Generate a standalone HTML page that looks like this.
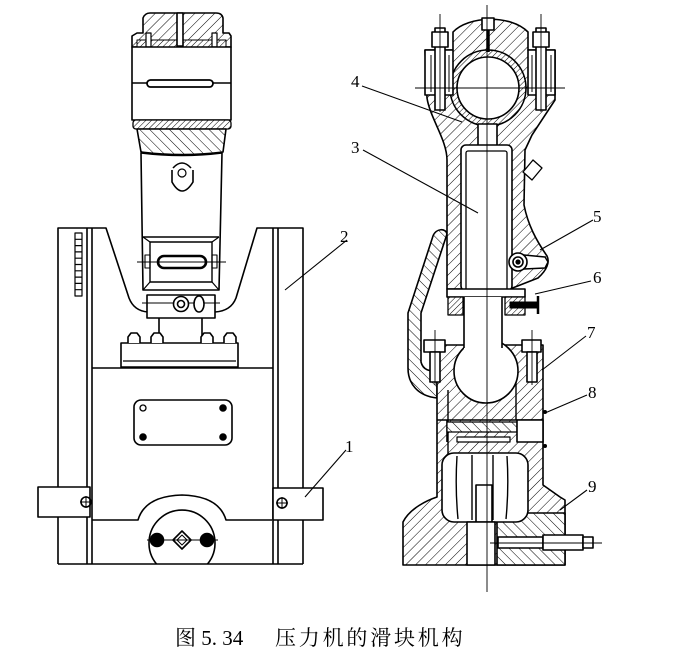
<!DOCTYPE html>
<html><head><meta charset="utf-8"><style>
html,body{margin:0;padding:0;background:#fff;}
svg{display:block;}
</style></head><body>
<svg width="674" height="657" viewBox="0 0 674 657" xmlns="http://www.w3.org/2000/svg">
<defs>
<pattern id="h1" width="7" height="7" patternUnits="userSpaceOnUse" patternTransform="rotate(45)"><rect width="7" height="7" fill="#fff"/><line x1="0" y1="0" x2="0" y2="7" stroke="#000" stroke-width="1"/></pattern>
<pattern id="h2" width="7" height="7" patternUnits="userSpaceOnUse" patternTransform="rotate(-45)"><rect width="7" height="7" fill="#fff"/><line x1="0" y1="0" x2="0" y2="7" stroke="#000" stroke-width="1"/></pattern>
<pattern id="h3" width="4" height="4" patternUnits="userSpaceOnUse" patternTransform="rotate(45)"><rect width="4" height="4" fill="#fff"/><line x1="0" y1="0" x2="0" y2="4" stroke="#000" stroke-width="1"/></pattern>
</defs>
<rect width="674" height="657" fill="#fff"/>

<!-- ============ LEFT VIEW ============ -->
<g fill="none" stroke="#000" stroke-width="1.6" stroke-linejoin="round">
<path d="M58,564 V228 H106 L129,298 Q134,311 148,312"/>
<path d="M303,564 V228 H257 L236,298 Q231,311 215,312"/>
<line x1="87" y1="228" x2="87" y2="564"/>
<line x1="92" y1="228" x2="92" y2="564"/>
<line x1="273" y1="228" x2="273" y2="564"/>
<line x1="278" y1="228" x2="278" y2="564"/>
<line x1="58" y1="564" x2="303" y2="564"/>
<rect x="75" y="233" width="7" height="63" stroke-width="1.2"/>
<path d="M75,239.3H82M75,245.6H82M75,251.9H82M75,258.2H82M75,264.5H82M75,270.8H82M75,277.1H82M75,283.4H82M75,289.7H82" stroke-width="1.2"/>
<line x1="92" y1="368" x2="273" y2="368"/>
<rect x="134" y="400" width="98" height="45" rx="7"/>
<circle cx="143" cy="408" r="3" stroke-width="1.3"/>
<circle cx="223" cy="408" r="3" fill="#000"/>
<circle cx="143" cy="437" r="3" fill="#000"/>
<circle cx="223" cy="437" r="3" fill="#000"/>
<rect x="38" y="487" width="52" height="30" fill="#fff"/>
<rect x="273" y="488" width="50" height="32" fill="#fff"/>
<circle cx="86" cy="502" r="5"/><path d="M80,502H92M86,496V508" stroke-width="1"/>
<circle cx="282" cy="503" r="5"/><path d="M276,503H288M282,497V509" stroke-width="1"/>
<path d="M92,520 H138 Q145,496 182,495 Q219,496 226,520 H272"/>
<path d="M156.5,564 A33,33 0 1 1 207.5,564"/>
<line x1="147" y1="540" x2="218" y2="540" stroke-width="1"/>
<circle cx="157" cy="540" r="6.5" fill="#000"/>
<circle cx="207" cy="540" r="6.5" fill="#000"/>
<path d="M182,531 L191,540 L182,549 L173,540 Z"/>
<path d="M182,535 L187,540 L182,545 L177,540 Z" stroke-width="1"/>

<path fill="url(#h1)" d="M132,47 V36 L137,33 H143 V18 Q145,13 150,13 H216 Q222,13 223,18 V33 H229 L231,36 V47 Z"/>
<path fill="url(#h3)" d="M137,40 H226 V47 H137 Z" stroke-width="1"/>
<rect x="177" y="13" width="6" height="33" fill="#fff"/>
<rect x="146" y="33" width="5" height="14" fill="#fff" stroke-width="1.2"/>
<rect x="212" y="33" width="5" height="14" fill="#fff" stroke-width="1.2"/>
<rect x="132" y="47" width="99" height="73" fill="#fff"/>
<line x1="132" y1="83" x2="231" y2="83"/>
<rect x="147" y="80" width="66" height="7" rx="3.5" fill="#fff" stroke-width="1.8"/>
<rect x="133" y="120" width="98" height="9" rx="3" fill="url(#h3)" stroke-width="1.3"/>
<path fill="url(#h2)" d="M137,129 H226 L223,152 Q182,157 141,152 Z"/>
<path fill="#fff" d="M141,153 Q182,158 222,153 L219,290 H143 Z"/>
<path d="M173,168 Q182,158 191,168"/>
<path d="M172,170 V182 Q182,200 193,182 V170"/>
<circle cx="182" cy="173" r="4" stroke-width="1.2"/>
<line x1="143" y1="237" x2="219" y2="237"/>
<rect x="150" y="242" width="62" height="40" stroke-width="1.4"/>
<path d="M143,237 L150,242 M219,237 L212,242 M143,290 L150,282 M219,290 L212,282" stroke-width="1.2"/>
<rect x="158" y="256" width="48" height="12" rx="6" stroke-width="2.6"/>
<line x1="137" y1="262" x2="226" y2="262" stroke-width="0.9"/>
<rect x="145" y="255" width="5" height="13" stroke-width="1.1"/>
<rect x="212" y="255" width="5" height="13" stroke-width="1.1"/>
<rect x="147" y="295" width="68" height="23" fill="#fff"/>
<line x1="142" y1="303" x2="220" y2="303" stroke-width="0.9"/>
<circle cx="181" cy="304" r="7.5" fill="#fff"/>
<circle cx="181" cy="304" r="3.5"/>
<ellipse cx="199" cy="304" rx="5" ry="8" fill="#fff"/>
<line x1="159" y1="318" x2="159" y2="337"/>
<line x1="202" y1="318" x2="202" y2="337"/>
<rect x="121" y="343" width="117" height="24" fill="#fff"/>
<line x1="123" y1="361" x2="236" y2="361" stroke-width="1.2"/>
<path d="M128,343 V337 L131,333 H137 L140,337 V343 M151,343 V337 L154,333 H160 L163,337 V343 M201,343 V337 L204,333 H210 L213,337 V343 M224,343 V337 L227,333 H233 L236,337 V343" fill="#fff"/>
<line x1="347" y1="240" x2="285" y2="290" stroke-width="1.1"/>
<line x1="346" y1="450" x2="305" y2="497" stroke-width="1.1"/>
</g>

<!-- ============ RIGHT VIEW ============ -->
<g fill="none" stroke="#000" stroke-width="1.6" stroke-linejoin="round">
<path fill="url(#h2)" d="M433,236 C436,228 446,228 447,234 L421,313 V362 C423,370 430,372 437,370 V398 C418,396 408,384 408,368 V313 Z"/>
<path fill="url(#h1)" d="M427,98 L425,50 H453 V32 C468,16 510,14 528,32 V50 H555 V100 L532,135 L525,150 L524,205 C528,225 536,240 547,256 C550,262 547,270 538,278 L510,289 H447 V160 C447,140 430,118 427,98 Z"/>
<path fill="#fff" d="M523,172 L533,160 L542,168 L532,180 Z" stroke-width="1.3"/>
<circle cx="488" cy="88" r="38" fill="url(#h3)"/>
<circle cx="488" cy="88" r="31" fill="#fff"/>
<rect x="425" y="50" width="28" height="45" fill="#fff"/>
<rect x="528" y="50" width="27" height="45" fill="#fff"/>
<rect x="435" y="28" width="10" height="82" fill="#fff"/>
<rect x="432" y="32" width="16" height="15" fill="#fff"/>
<rect x="536" y="28" width="10" height="82" fill="#fff"/>
<rect x="533" y="32" width="16" height="15" fill="#fff"/>
<line x1="440" y1="14" x2="440" y2="112" stroke-width="0.9"/>
<line x1="541" y1="14" x2="541" y2="112" stroke-width="0.9"/>
<path d="M431,55 V92 M449,55 V92 M532,55 V92 M551,55 V92" stroke-width="1"/>
<rect x="482" y="18" width="12" height="12" fill="#fff"/>
<line x1="488" y1="30" x2="488" y2="52" stroke-width="3.5"/>
<rect x="478" y="124" width="19" height="24" fill="#fff"/>
<rect x="461" y="145" width="51" height="146" rx="5" fill="#fff"/>
<rect x="466" y="151" width="41" height="140" rx="2" fill="#fff" stroke-width="1.3"/>
<path fill="#fff" d="M524,255 L545,257 L548,262 L545,268 L524,269 Z" stroke-width="1.4"/>
<circle cx="518" cy="262" r="9" fill="#fff"/>
<circle cx="518" cy="262" r="5"/>
<circle cx="518" cy="262" r="1.8" fill="#000"/>
<rect x="447" y="289" width="78" height="8" fill="#fff"/>
<rect x="448" y="297" width="15" height="18" fill="url(#h3)" stroke-width="1.3"/>
<rect x="505" y="297" width="20" height="18" fill="url(#h3)" stroke-width="1.3"/>
<rect x="510" y="302" width="28" height="6" fill="#000" stroke-width="1"/>
<line x1="538" y1="296" x2="538" y2="314" stroke-width="2.5"/>
<!-- slider body -->
<path fill="url(#h1)" d="M437,345 H543 V485 L560,497 L565,500 V565 H403 V522 C410,508 428,500 437,497 Z"/>
<rect x="497" y="513" width="68" height="52" fill="url(#h2)"/>
<line x1="448" y1="390" x2="448" y2="455" stroke-width="1.4"/>
<line x1="516" y1="377" x2="516" y2="420" stroke-width="1.4"/>
<circle cx="486" cy="371" r="32" fill="#fff"/>
<rect x="464" y="297" width="38" height="52" fill="#fff" stroke="none"/>
<path d="M464,297 V348 M502,297 V348"/>
<!-- socket bolts -->
<rect x="424" y="340" width="21" height="12" fill="#fff"/>
<rect x="430" y="352" width="10" height="30" fill="#fff"/>
<rect x="522" y="340" width="19" height="12" fill="#fff"/>
<rect x="527" y="352" width="10" height="30" fill="#fff"/>
<line x1="435" y1="330" x2="435" y2="385" stroke-width="0.9"/>
<line x1="532" y1="330" x2="532" y2="385" stroke-width="0.9"/>
<path d="M437,420 H543 M447,420 V442"/>
<rect x="447" y="422" width="70" height="10" fill="url(#h2)" stroke-width="1.2"/>
<rect x="457" y="437" width="53" height="5" fill="#fff" stroke-width="1.2"/>
<rect x="517" y="420" width="26" height="22" fill="#fff"/>
<circle cx="545" cy="412" r="2" fill="#000" stroke="none"/>
<circle cx="545" cy="446" r="2" fill="#000" stroke="none"/>
<rect x="442" y="453" width="86" height="69" rx="12" fill="#fff"/>
<path d="M457,456 Q455,488 458,519 M472,455 V520 M493,455 V520 M507,456 Q509,488 506,519" stroke-width="1.4"/>
<rect x="476" y="485" width="16" height="37" fill="#fff"/>
<rect x="467" y="522" width="28" height="43" fill="#fff"/>
<rect x="498" y="537" width="45" height="11" fill="#fff"/>
<rect x="543" y="535" width="40" height="15" fill="#fff"/>
<rect x="583" y="537" width="10" height="11" fill="#fff"/>
<line x1="490" y1="543" x2="602" y2="543" stroke-width="0.9"/>
<line x1="487" y1="5" x2="487" y2="592" stroke-width="0.9"/>
<line x1="415" y1="88" x2="565" y2="88" stroke-width="0.9"/>
<line x1="362" y1="86" x2="462" y2="122" stroke-width="1.1"/>
<line x1="363" y1="150" x2="478" y2="213" stroke-width="1.1"/>
<line x1="593" y1="220" x2="540" y2="250" stroke-width="1.1"/>
<line x1="591" y1="281" x2="535" y2="294" stroke-width="1.1"/>
<line x1="586" y1="336" x2="542" y2="370" stroke-width="1.1"/>
<line x1="587" y1="395" x2="545" y2="413" stroke-width="1.1"/>
<line x1="587" y1="490" x2="560" y2="510" stroke-width="1.1"/>
</g>

<g font-family="'Liberation Serif', serif" font-size="17" fill="#000">
<text x="351" y="87">4</text>
<text x="351" y="153">3</text>
<text x="340" y="242">2</text>
<text x="345" y="452">1</text>
<text x="593" y="222">5</text>
<text x="593" y="283">6</text>
<text x="587" y="338">7</text>
<text x="588" y="398">8</text>
<text x="588" y="492">9</text>
</g>
<text x="175" y="645" font-family="'Liberation Serif', 'Noto Serif CJK SC', serif" font-size="21" fill="#000">图 5. 34</text>
<text x="275" y="645" font-family="'Liberation Serif', 'Noto Serif CJK SC', serif" font-size="21" letter-spacing="2.8" fill="#000">压力机的滑块机构</text>
</svg>
</body></html>
